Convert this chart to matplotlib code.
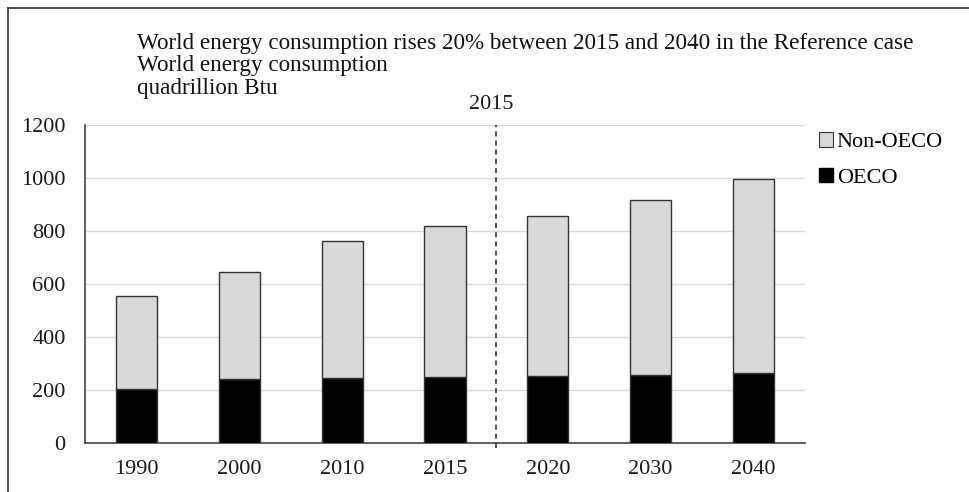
import numpy as np
import matplotlib.pyplot as plt
from matplotlib.lines import Line2D
from matplotlib.patches import Patch

plt.rcParams['font.family'] = ['Liberation Serif', 'DejaVu Serif']

years = ["1990", "2000", "2010", "2015", "2020", "2030", "2040"]
oecd = [203, 241, 247, 248, 252, 257, 266]
non_oecd = [350, 406, 516, 572, 605, 660, 730]
yticks = [0, 200, 400, 600, 800, 1000, 1200]

title_lines = ["World energy consumption rises 20% between 2015 and 2040 in the Reference case",
               "World energy consumption",
               "quadrillion Btu"]

fig = plt.figure(figsize=(9.69, 4.92), dpi=100)
ax = fig.add_axes([0.0877, 0.0996, 0.7430, 0.6464])

x = np.arange(len(years))
w = 0.4
ax.bar(x, oecd, w, color="black", edgecolor="#333333", linewidth=1.0, zorder=3)
ax.bar(x, non_oecd, w, bottom=oecd, color="#d9d9d9", edgecolor="#333333",
       linewidth=1.0, zorder=3)

ax.set_xlim(-0.5, len(years) - 0.5)
ax.set_ylim(0, 1200)
ax.set_yticks(yticks)
ax.set_xticks(x)
ax.set_xticklabels(years)
ax.tick_params(axis="both", length=0, labelsize=16, colors="#1a1a1a")
ax.tick_params(axis="x", pad=12)
ax.tick_params(axis="y", pad=14)
ax.grid(axis="y", color="#d9d9d9", linewidth=1.0, zorder=0)
for side in ["top", "right"]:
    ax.spines[side].set_visible(False)
for side in ["left", "bottom"]:
    ax.spines[side].set_color("#444444")
    ax.spines[side].set_linewidth(1.2)

# projection boundary after 2015
ax.plot([3.5, 3.5], [-20, 1200], color="#333333", linestyle=(0, (3, 2.5)),
        linewidth=1.2, clip_on=False, zorder=4)
ax.text(3.45, 1240, "2015", ha="center", va="bottom", fontsize=16, color="#1a1a1a")

for i, line in enumerate(title_lines):
    fig.text(0.141, 0.912 - i * 0.0455, line, ha="left", va="center",
             fontsize=16.7, color="#111111")

handles = [Patch(facecolor="#d9d9d9", edgecolor="#333333", linewidth=0.8),
           Patch(facecolor="black", edgecolor="black")]
fig.legend(handles, ["Non-OECO", "OECO"], loc="upper left",
           bbox_to_anchor=(0.836, 0.75), frameon=False, fontsize=16,
           handlelength=0.65, handleheight=0.65, handletextpad=0.15,
           labelspacing=0.7, borderaxespad=0)

# outer chart frame
fig.add_artist(Line2D([0.0083, 0.0083], [0.0, 0.983], color="#333333", linewidth=1.2))
fig.add_artist(Line2D([0.0083, 1.0], [0.983, 0.983], color="#333333", linewidth=1.2))

fig.savefig("out.png", dpi=100)
